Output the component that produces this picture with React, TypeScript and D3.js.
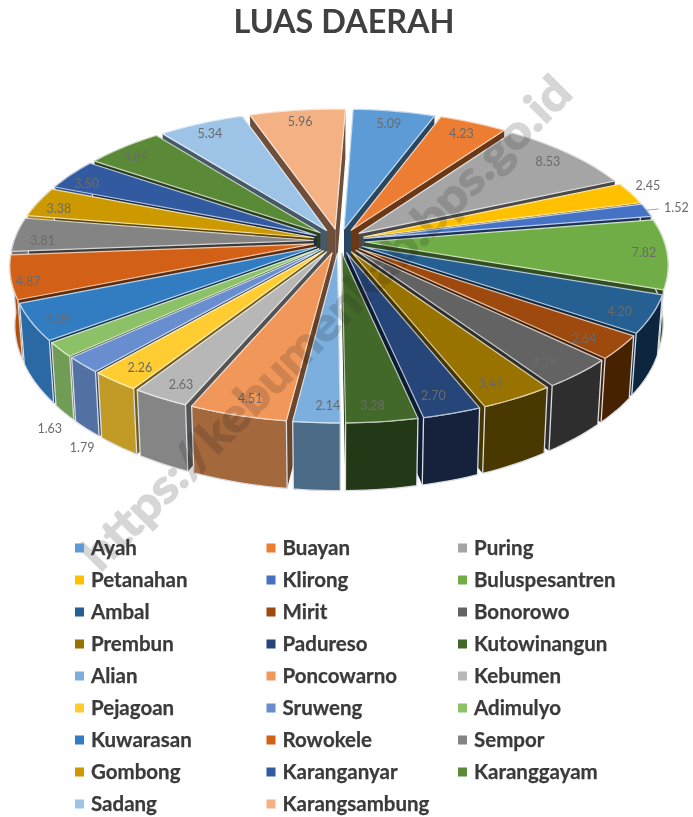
import * as d3 from 'd3';

const kecamatan = ['Ayah', 'Buayan', 'Puring', 'Petanahan', 'Klirong', 'Buluspesantren', 'Ambal', 'Mirit', 'Bonorowo', 'Prembun', 'Padureso', 'Kutowinangun', 'Alian', 'Poncowarno', 'Kebumen', 'Pejagoan', 'Sruweng', 'Adimulyo', 'Kuwarasan', 'Rowokele', 'Sempor', 'Gombong', 'Karanganyar', 'Karanggayam', 'Sadang', 'Karangsambung'];
const luas = [5.09, 4.23, 8.53, 2.45, 1.52, 7.82, 4.2, 2.64, 3.39, 3.41, 2.7, 3.28, 2.14, 4.51, 2.63, 2.26, 1.79, 1.63, 4.09, 4.87, 3.81, 3.38, 3.5, 4.84, 5.34, 5.96];
const palette = ['#5b9bd5', '#ed7d31', '#a5a5a5', '#ffc000', '#4472c4', '#70ad47', '#255e91', '#9e480e', '#636363', '#997300', '#264478', '#43682b', '#7cafdd', '#f1975a', '#b7b7b7', '#ffcd33', '#698ed0', '#8cc168', '#327dc2', '#d26012', '#848484', '#cc9a00', '#335aa1', '#5a8a39', '#9dc3e6', '#f4b183'];

// labels that sit outside the pie get a larger radius, and the ones below it a drop
const labelRadius = [0.89, 0.9, 0.9, 1.06, 1.1, 0.93, 0.91, 0.9, 0.89, 0.91, 0.91, 0.91, 0.91, 0.91, 0.92, 0.91, 1.02, 1.05, 0.92, 0.95, 0.92, 0.93, 0.94, 0.94, 0.93, 0.92];
const labelDrop = [0, 0, 0, -0.1, 0, 0, 0.08, 0.05, 0.08, 0.03, 0, 0.05, 0.03, 0.02, 0.02, 0.02, 1.25, 1.15, 0.06, 0.1, 0.1, 0.08, 0.09, 0.08, 0.05, 0.05];
const labelShift = [0, 0, 0, 0, 0, 0, -2, -5, -5, -8, -7, -5, 9, 2, 4, 2, 0, 0, 0, 0, 0, 0, 0, 0, 0, 0];

const width = 693;
const height = 817;
const cx = 339;
const cy = 241;
const rx = 325;
const ry = 153;
const persp = 0.159; // how much nearer parts of the disk grow
const depth = 57;
const explode = 0.08;
const radius = 1 - explode;
const rotation = 0.038;

// pie plane (u right, v toward viewer, z down) to screen
const project = (u: number, v: number, z = 0): [number, number] => {
	const s = 1 / (1 - persp * v);
	return [cx + rx * u * s * (1 - 0.015 * z), cy + ry * v * s + depth * z * s];
};

const wallShade = d3.scaleLinear().domain([90, 110, 170, 182, 195, 240, 270]).range([0.4, 0.42, 0.5, 0.6, 0.68, 0.84, 0.85]).clamp(true);
const shade = (c: string, f: number) => d3.interpolateRgb('#000', c)(f);
const edge = (c: string) => d3.interpolateRgb(c, '#fff')(0.65);
const line = d3.line();

const arcs = d3.pie<number>().sort(null).startAngle(rotation).endAngle(2 * Math.PI + rotation)(luas).map((a, i) => {
	const mid = (a.startAngle + a.endAngle) / 2;
	const ox = explode * Math.sin(mid);
	const oy = -explode * Math.cos(mid);
	const n = Math.max(2, Math.ceil((a.endAngle - a.startAngle) / 0.03));
	const rim = d3.range(n + 1).map((k) => {
		const t = a.startAngle + ((a.endAngle - a.startAngle) * k) / n;
		return [ox + radius * Math.sin(t), oy - radius * Math.cos(t)];
	});
	return { i, mid, ox, oy, rim, v: oy };
});

const top = (rim: number[][], ox: number, oy: number) =>
	line([project(ox, oy), ...rim.map((p) => project(p[0], p[1]))]) + 'Z';
const side = (pts: number[][]) =>
	line([...pts.map((p) => project(p[0], p[1])), ...[...pts].reverse().map((p) => project(p[0], p[1], 1))]) + 'Z';

const order = [...arcs].sort((a, b) => a.v - b.v);

const legendX = d3.scalePoint<number>().domain([0, 1, 2]).range([75, 458]);
const legendY = d3.scaleLinear().domain([0, 8]).range([548, 804]);

export default function App() {
	return (
		<svg width={width} height={height} viewBox={`0 0 ${width} ${height}`} style={{ position: 'absolute', left: 0, top: 0, background: '#fff' }}>
			<defs>
				<filter id="soft" x="-5%" y="-5%" width="110%" height="110%">
					<feGaussianBlur stdDeviation={0.35} />
				</filter>
			</defs>
			<g filter="url(#soft)">
				<text x={344} y={33} textAnchor="middle" fontFamily="Lato" fontWeight={700} fontSize={32.4} fill="#404040">LUAS DAERAH</text>

				{order.map((a) => {
					const c = palette[a.i];
					const first = a.rim[0];
					const last = a.rim[a.rim.length - 1];
					const apex = [a.ox, a.oy];
					const deg = (a.mid * 180) / Math.PI;
					const front = deg > 60 && deg < 300;
					return (
						<g key={kecamatan[a.i]}>
							<path d={side([apex, first])} fill={shade(c, 0.45)} />
							<path d={side([apex, last])} fill={shade(c, 0.45)} />
							{front && <path d={side(a.rim)} fill={shade(c, wallShade(deg))} stroke="#d9dde2" strokeWidth={1.3} strokeLinejoin="round" />}
							<path d={top(a.rim, a.ox, a.oy)} fill={c} stroke={edge(c)} strokeWidth={1.2} strokeLinejoin="round" />
						</g>
					);
				})}

				{/* leader for Klirong */}
				<path d={line([project(Math.sin(arcs[4].mid) * 1.0, -Math.cos(arcs[4].mid) * 1.0), project(Math.sin(arcs[4].mid) * 1.04, -Math.cos(arcs[4].mid) * 1.04)]) ?? ''} stroke="#a6a6a6" fill="none" />

				{arcs.map((a) => {
					const r = labelRadius[a.i];
					const [x, y] = project(Math.sin(a.mid) * r, -Math.cos(a.mid) * r, labelDrop[a.i]);
					return (
						<text key={a.i} x={x + labelShift[a.i]} y={y} dy="0.35em" textAnchor="middle" fontFamily="Lato" fontSize={12.5} fill="#6b6b6b">
							{luas[a.i].toFixed(2)}
						</text>
					);
				})}

				<g opacity={0.16}>
					<text transform="translate(100,573) rotate(-45.2)" fontFamily="Lato" fontWeight={700} fontSize={46} fill="#1a1a1a" stroke="#1a1a1a" strokeWidth={1.6} textLength={673} lengthAdjust="spacingAndGlyphs">https://kebumenkab.bps.go.id</text>
				</g>

				{kecamatan.map((name, i) => {
					const col = i % 3;
					const row = Math.floor(i / 3);
					const x = legendX(col) ?? 0;
					const y = legendY(row);
					return (
						<g key={name}>
							<rect x={x} y={y - 4.5} width={9} height={9} fill={palette[i]} />
							<text x={x + 16} y={y} dy="0.35em" fontFamily="Lato" fontWeight={700} fontSize={20.5} fill="#3a3a3a" stroke="#3a3a3a" strokeWidth={0.25}>{name}</text>
						</g>
					);
				})}
			</g>
		</svg>
	);
}
